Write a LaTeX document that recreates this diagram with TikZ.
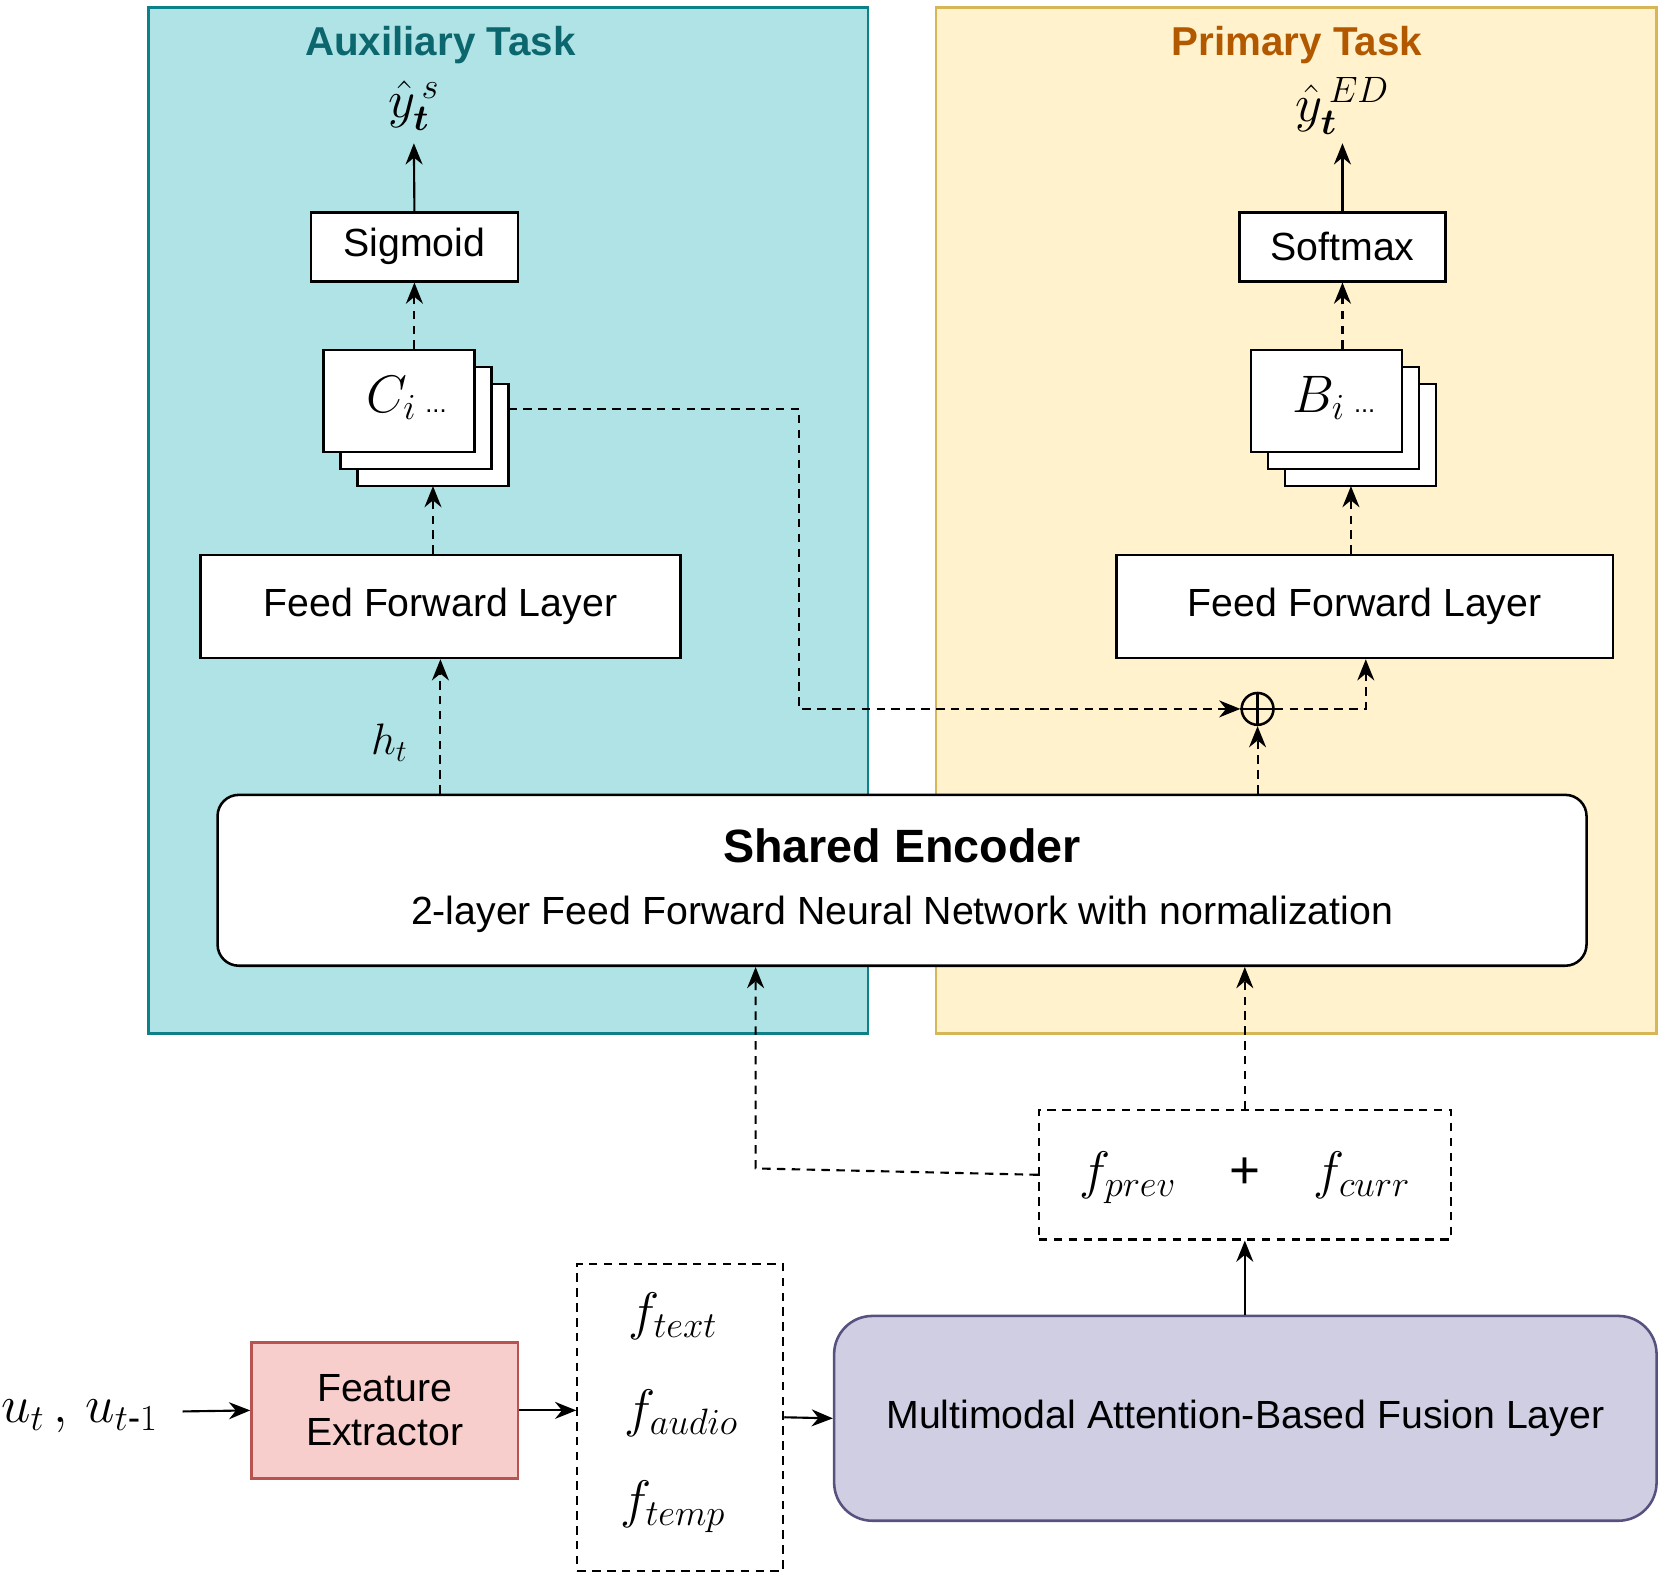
\documentclass[tikz,border=0pt]{standalone}
\usepackage{amsmath,bm}
\usepackage{fontspec}
\setmainfont{Liberation Sans}
\usetikzlibrary{arrows.meta,calc}
\definecolor{auxf}{HTML}{B0E3E6}\definecolor{auxd}{HTML}{0E8088}
\definecolor{prif}{HTML}{FFF2CC}\definecolor{prid}{HTML}{D6B656}
\definecolor{fusf}{HTML}{D0CEE2}\definecolor{fusd}{HTML}{56517E}
\definecolor{fef}{HTML}{F8CECC}\definecolor{fed}{HTML}{B85450}
\begin{document}
\begin{tikzpicture}[x=0.5pt,y=-0.5pt,line width=1pt,
 box/.style={draw,fill=white,line width=1.2pt,inner sep=0pt},
 arr/.style={-{Stealth[length=10pt,width=8pt]}},
 dsh/.style={dashed,dash pattern=on 4pt off 3pt},
 txt/.style={font=\fontsize{18.5}{21}\selectfont},
 mth/.style={font=\fontsize{25}{27}\selectfont}]
\useasboundingbox (0,0) rectangle (1568,1489);
% panels
\draw[fill=auxf,draw=auxd,line width=1.2pt] (140,7) rectangle (818,974);
\draw[fill=prif,draw=prid,line width=1.2pt] (882,7) rectangle (1561,974);
\node[font=\bfseries\fontsize{19}{21}\selectfont,text=auxd!80!black] (auxt) at (415,42) {Auxiliary Task};
\node[font=\bfseries\fontsize{19}{21}\selectfont,text=orange!70!black] (prit) at (1222,42) {Primary Task};
% aux column
\node[box,minimum width=97.5pt,minimum height=32.5pt,txt] (sig) at (390.5,232.5) {Sigmoid};
\node[mth] (ys) at (390,100) {$\hat{y}_{\bm{t}}^{\,s}$};
\draw[box] (337,362) rectangle (479,458);
\draw[box] (321,346) rectangle (463,442);
\node[box,minimum width=71pt,minimum height=48pt] (ci) at (376,378) {};
\node[mth] at (383,375) {$C_{i}$\,\fontsize{12}{12}\selectfont...};
\coordinate (ciR) at (479,385);
\node[box,minimum width=226pt,minimum height=48.5pt,txt] (ffa) at (415,571.5) {Feed Forward Layer};
% primary column
\node[box,minimum width=97pt,minimum height=32.5pt,txt] (soft) at (1265,232.5) {Softmax};
\node[mth] (yed) at (1265,100) {$\hat{y}_{\bm{t}}^{\,ED}$};
\draw[box] (1211,362) rectangle (1353,458);
\draw[box] (1195,346) rectangle (1337,442);
\node[box,minimum width=71pt,minimum height=48pt] (bi) at (1250,378) {};
\node[mth] at (1257,375) {$B_{i}$\,\fontsize{12}{12}\selectfont...};
\node[box,minimum width=234pt,minimum height=48.5pt,txt] (ffp) at (1286,571.5) {Feed Forward Layer};
\node[draw,circle,minimum size=15pt,inner sep=0pt,line width=1.2pt] (op) at (1185,668) {};
\draw[line width=1.2pt] (op.north)--(op.south) (op.west)--(op.east);
% encoder
\node[box,rounded corners=10pt,minimum width=645pt,minimum height=80.5pt] (enc) at (850,829.5) {};
\node[font=\bfseries\fontsize{22}{24}\selectfont] (enct) at (850,797) {Shared Encoder};
\node[txt] (encs) at (850,862) {2-layer Feed Forward Neural Network with normalization};
\node[font=\fontsize{20}{22}\selectfont] (ht) at (367,700) {$h_t$};
% bottom
\node[draw,dsh,minimum width=194pt,minimum height=61pt,inner sep=0pt] (fpc) at (1173,1107) {};
\node[mth] at (1173,1110) {$f_{prev}$\quad\textrm{+}\quad$f_{curr}$};
\node[draw,rounded corners=18pt,fill=fusf,draw=fusd,line width=1.2pt,minimum width=387.5pt,minimum height=96.5pt,txt] (fus) at (1173.5,1336.5) {Multimodal Attention-Based Fusion Layer};
\node[draw,dsh,minimum width=97pt,minimum height=144.5pt,inner sep=0pt] (fb) at (641,1335.5) {};
\node[mth] at (634,1240) {$f_{text}$};
\node[mth] at (642,1332) {$f_{audio}$};
\node[mth] at (634,1420) {$f_{temp}$};
\node[draw=fed,fill=fef,line width=1.2pt,minimum width=125.5pt,minimum height=64pt,txt,align=center] (fe) at (362.5,1329) {Feature\\Extractor};
\node[mth] (u) at (75,1335) {$u_t\,,\,u_{t\textrm{-}1}$};
% connectors
\draw[arr] (sig.north) -- (390,135);
\draw[arr,dsh] (ci.north -| sig) -- (sig.south);
\draw[arr,dsh] (ffa.north -| 408,0) -- (408,458);
\draw[arr,dsh] (enc.north -| ffa) -- (ffa.south);
\draw[arr] (soft.north) -- (1265,135);
\draw[arr,dsh] (bi.north -| soft) -- (soft.south);
\draw[arr,dsh] (ffp.north -| 1273,0) -- (1273,458);
\draw[arr,dsh] (ciR) -- (753,385) -- (753,668) -- (op.west);
\draw[arr,dsh] (enc.north -| op) -- (op.south);
\draw[arr,dsh] (op.east) -- (1287,668) -- (ffp.south -| 1287,0);
\draw[arr,dsh] (fpc.north) -- (enc.south -| fpc);
\draw[arr,dsh] (fpc.west) -- (712,1101) -- (enc.south -| 712,0);
\draw[arr] (fus.north -| fpc) -- (fpc.south);
\draw[arr] (fb.east) -- (fus.west);
\draw[arr] (fe.east) -- (fb.west |- fe.east);
\draw[arr] (172,1330) -- (fe.west);
\end{tikzpicture}
\end{document}
